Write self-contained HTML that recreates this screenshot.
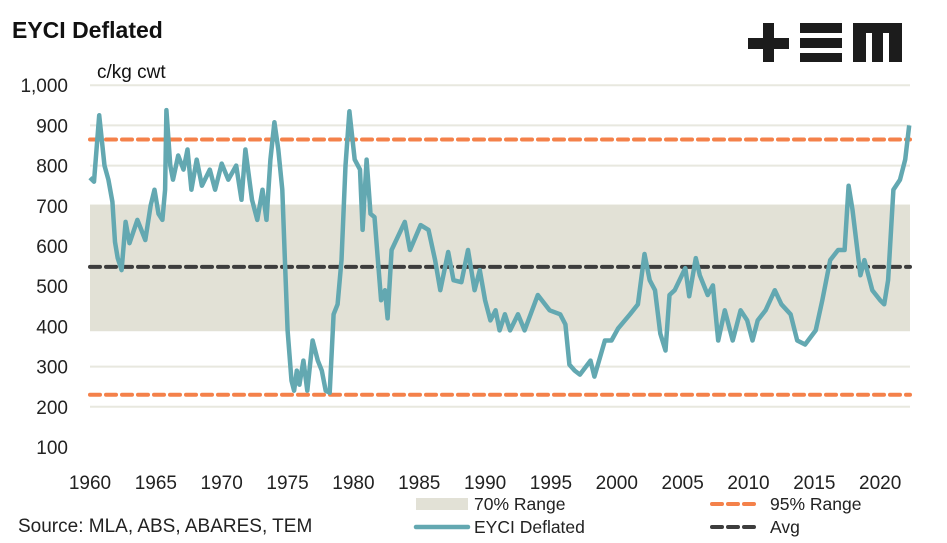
<!DOCTYPE html>
<html><head><meta charset="utf-8"><style>
html,body{margin:0;padding:0;background:#fff;}
svg{display:block;font-family:"Liberation Sans",sans-serif;}
</style></head><body>
<svg id="chart" width="947" height="543" viewBox="0 0 947 543">
<text x="12" y="38" font-size="23" font-weight="bold" fill="#111">EYCI Deflated</text>
<g fill="#1c1c1c">
<rect x="748" y="38" width="41" height="11"/><rect x="763" y="23" width="11" height="39"/>
<rect x="800" y="23" width="42" height="10"/><rect x="800" y="38" width="42" height="10"/><rect x="800" y="53" width="42" height="9"/>
<path d="M853 23H902V62H889V33H883V62H872V33H866V62H853Z"/>
</g>
<text x="97" y="78" font-size="19" fill="#111">c/kg cwt</text>
<g id="grid"></g>
<g id="marks"></g>
<g id="labels"></g>
<g font-size="17.5" fill="#222">
<rect x="416" y="498" width="52" height="12" fill="#e2e1d6"/>
<text x="474" y="510">70% Range</text>
<line x1="712" y1="504" x2="760" y2="504" stroke="#f4814a" stroke-width="4" stroke-dasharray="10,6" stroke-linecap="round"/>
<text x="770" y="510">95% Range</text>
<line x1="416" y1="527" x2="468" y2="527" stroke="#63a8b1" stroke-width="4.5" stroke-linecap="round"/>
<text x="474" y="533">EYCI Deflated</text>
<line x1="712" y1="527" x2="760" y2="527" stroke="#3d3d3d" stroke-width="4" stroke-dasharray="10,6" stroke-linecap="round"/>
<text x="770" y="533">Avg</text>
</g>
<text x="18" y="532" font-size="19" fill="#222">Source: MLA, ABS, ABARES,  TEM</text>
</svg>
<script>
const yTicks=[100,200,300,400,500,600,700,800,900,1000];
const yTickLabels=["100","200","300","400","500","600","700","800","900","1,000"];
const xTicks=[1960,1965,1970,1975,1980,1985,1990,1995,2000,2005,2010,2015,2020];
const band70=[388,703];
const band95=[230,865];
const avgValue=548;
const years=[1960.0,1960.3,1960.7,1961.1,1961.4,1961.7,1961.9,1962.1,1962.4,1962.7,1963.0,1963.6,1964.2,1964.6,1964.9,1965.2,1965.5,1965.7,1965.8,1966.1,1966.3,1966.7,1967.1,1967.4,1967.7,1968.1,1968.5,1969.1,1969.5,1970.0,1970.5,1971.1,1971.5,1971.8,1972.3,1972.7,1973.1,1973.4,1973.7,1974.0,1974.3,1974.6,1974.8,1975.0,1975.3,1975.5,1975.7,1975.9,1976.2,1976.5,1976.9,1977.3,1977.6,1977.9,1978.2,1978.5,1978.8,1979.1,1979.4,1979.7,1980.1,1980.5,1980.7,1981.0,1981.3,1981.6,1981.8,1982.1,1982.4,1982.6,1982.9,1983.9,1984.3,1985.1,1985.7,1986.2,1986.6,1987.2,1987.6,1988.2,1988.7,1989.2,1989.6,1990.0,1990.4,1990.8,1991.1,1991.5,1991.9,1992.5,1993.0,1994.0,1994.9,1995.7,1996.1,1996.4,1996.8,1997.2,1998.0,1998.3,1999.1,1999.6,2000.1,2001.0,2001.6,2002.1,2002.5,2002.9,2003.3,2003.7,2004.0,2004.4,2005.2,2005.5,2006.0,2006.3,2006.9,2007.3,2007.7,2008.2,2008.8,2009.4,2009.9,2010.3,2010.7,2011.3,2012.0,2012.5,2013.2,2013.7,2014.3,2015.1,2015.6,2016.2,2016.8,2017.3,2017.6,2017.9,2018.5,2018.8,2019.4,2020.0,2020.3,2020.6,2021.0,2021.5,2021.9,2022.2];
const values=[770,760,925,800,765,710,610,570,540,660,607,665,615,700,740,680,665,740,938,800,765,825,790,840,740,815,750,790,740,805,765,800,715,840,715,665,740,665,815,908,840,740,565,390,265,240,290,255,315,240,365,315,290,240,235,430,455,565,800,935,815,790,640,815,680,672,590,465,490,420,590,660,590,652,640,565,490,585,515,510,590,490,540,465,415,440,390,430,390,430,390,478,440,430,405,305,290,280,315,275,365,365,395,430,455,580,515,490,382,340,478,490,545,475,570,527,478,502,365,440,365,440,415,365,415,440,490,455,430,365,355,390,465,565,590,590,750,690,527,565,490,465,455,515,740,765,815,900];
const X0=90,XS=13.17,Y0=447,YS=0.402,XL=90,XR=910;
function xs(v){return X0+(v-1960)*XS;}
function ys(v){return Y0-(v-100)*YS;}
const NS="http://www.w3.org/2000/svg";
function mk(t,a,p){const e=document.createElementNS(NS,t);for(const k in a)e.setAttribute(k,a[k]);p.appendChild(e);return e;}
const grid=document.getElementById('grid'),marks=document.getElementById('marks'),labels=document.getElementById('labels');
yTicks.forEach((t,i)=>{
 if(t>100){const g=mk('line',{x1:XL,x2:XR,y1:ys(t),y2:ys(t),stroke:'#e8e8df','stroke-width':2},grid);
 
 }
 const l=mk('text',{x:68,y:ys(t)+7,'text-anchor':'end','font-size':19,fill:'#222'},labels);
 l.textContent=yTickLabels[i];
 
 
});
xTicks.forEach(t=>{
 const l=mk('text',{x:xs(t),y:489,'text-anchor':'middle','font-size':19,fill:'#222'},labels);
 l.textContent=t;
 
 
});
const band=mk('rect',{x:XL,y:ys(band70[1]),width:XR-XL,height:ys(band70[0])-ys(band70[1]),fill:'#e2e1d6'},marks);


const av=mk('line',{x1:XL,x2:XR,y1:ys(avgValue),y2:ys(avgValue),stroke:'#3d3d3d','stroke-width':4,'stroke-dasharray':'10,6','stroke-linecap':'round'},marks);


band95.forEach(v=>{
 const l=mk('line',{x1:XL,x2:XR,y1:ys(v),y2:ys(v),stroke:'#f4814a','stroke-width':4,'stroke-dasharray':'10,6','stroke-linecap':'round'},marks);
 
 
});
const d=years.map((y,i)=>(i?'L':'M')+xs(y).toFixed(1)+' '+ys(values[i]).toFixed(1)).join('');
const p=mk('path',{d:d,fill:'none',stroke:'#63a8b1','stroke-width':4.5,'stroke-linejoin':'round'},marks);


</script>
</body></html>
